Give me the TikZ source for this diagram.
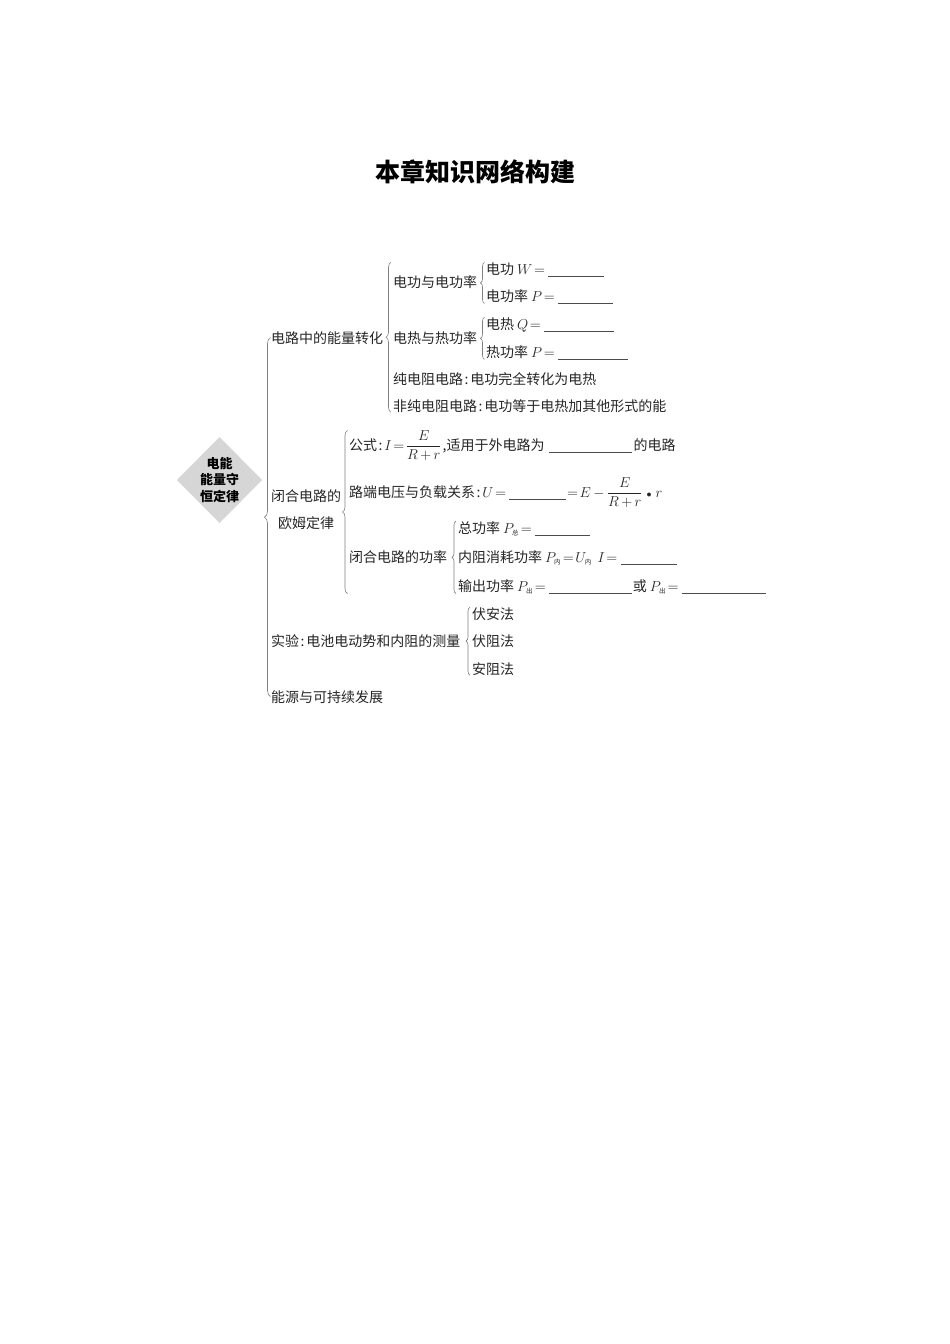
\documentclass[tikz,border=0pt]{standalone}
\usepackage[no-math]{fontspec}
\setmainfont{Noto Sans CJK SC}
\usetikzlibrary{decorations.pathreplacing,shapes.geometric}
\newcommand{\fs}{\fontsize{14}{17}\selectfont\thickmuskip=2mu\medmuskip=3mu}
\newcommand{\blank}[1]{{\color{black!70}\rule[-2.5pt]{#1pt}{0.45pt}}}
\newcommand{\zsub}[1]{_{\mbox{\fontsize{6.5}{7}\selectfont #1}}}
\newcommand{\cn}{\kern1.5pt:\kern2pt}
\begin{document}
\begin{tikzpicture}[x=1pt,y=-1pt,
  every node/.style={inner sep=0pt,outer sep=0pt,text=black!85,font=\fs},
  item/.style={anchor=base west},
  br/.style={draw=black!50,line width=0.6pt,decorate,decoration={brace,amplitude=#1}},
  br/.default=4pt]
\useasboundingbox[fill=white] (0,0) rectangle (950,1344);

\node[font=\fontsize{25}{28}\selectfont\bfseries,text=black] (title) at (475,172) {本章知识网络构建};

\node[diamond,fill=black!16,minimum width=85pt,minimum height=86pt,inner sep=0pt] (root) at (219.5,480) {};
\node[align=center,font=\fontsize{13}{16.5}\selectfont\bfseries,text=black] (roottext) at (root.center) {电能\\能量守\\恒定律};

% level 1
\node[item] (L1a) at (271,343) {电路中的能量转化};
\node[align=center,font=\fontsize{14}{27}\selectfont] (L1b) at (306,509.5) {闭合电路的\\欧姆定律};
\node[item] (L1c) at (271,646) {实验\cn 电池电动势和内阻的测量};
\node[item] (L1d) at (271,702) {能源与可持续发展};

% level 2 under L1a
\node[item] (A1) at (393,287) {电功与电功率};
\node[item] (A2) at (393,343) {电热与热功率};
\node[item] (A3) at (393,384) {纯电阻电路\cn 电功完全转化为电热};
\node[item] (A4) at (393,411) {非纯电阻电路\cn 电功等于电热加其他形式的能};

% level 3
\node[item] (B1) at (486,274) {电功 $W=$\kern3pt\blank{56}};
\node[item] (B2) at (486,301) {电功率 $P=$\kern3pt\blank{55}};
\node[item] (B3) at (486,329) {电热 $Q=$\kern3pt\blank{70}};
\node[item] (B4) at (486,357) {热功率 $P=$\kern3pt\blank{70}};

% level 2 under L1b
\node[item] (C1) at (349,450) {公式\cn $I=\displaystyle\frac{E}{R+r}$\kern1pt,适用于外电路为\kern4pt\blank{83}\kern2pt 的电路};
\node[item] (C2) at (349,497) {路端电压与负载关系\cn $U=$\kern3pt\blank{57}\kern1pt$=E-\displaystyle\frac{E}{R+r}\kern4pt{\scriptstyle\bullet}\kern4pt r$};
\node[item] (C3) at (349,562) {闭合电路的功率};

\node[item] (D1) at (458,533) {总功率 $P\zsub{总}=$\kern3pt\blank{55}};
\node[item] (D2) at (458,562) {内阻消耗功率 $P\zsub{内}=U\zsub{内}\ \,I=$\kern4pt\blank{56}};
\node[item] (D3) at (458,591) {输出功率 $P\zsub{出}=$\kern3pt\blank{83}\kern1pt 或 $P\zsub{出}=$\kern3pt\blank{84}};

% under L1c
\node[item] (E1) at (472,619) {伏安法};
\node[item] (E2) at (472,646) {伏阻法};
\node[item] (E3) at (472,674) {安阻法};

% braces
\coordinate (k0) at (270.5,0);
\coordinate (k1) at (391,0);
\coordinate (k2) at (484.5,0);
\coordinate (k3) at (347.5,0);
\coordinate (k4) at (456,0);
\coordinate (k5) at (470,0);
\draw[br=6pt] (k0 |- L1d.center) -- (k0 |- L1a.center);
\draw[br=5pt] (k1 |- A4.south) -- (k1 |- B1.north);
\draw[br] (k2 |- B2.south) -- (k2 |- B1.north);
\draw[br] (k2 |- B4.south) -- (k2 |- B3.north);
\draw[br=5pt] (k3 |- D3.south) -- (k3 |- C1.north);
\draw[br] (k4 |- D3.south) -- (k4 |- D1.north);
\draw[br] (k5 |- E3.south) -- (k5 |- E1.north);
\end{tikzpicture}
\end{document}
